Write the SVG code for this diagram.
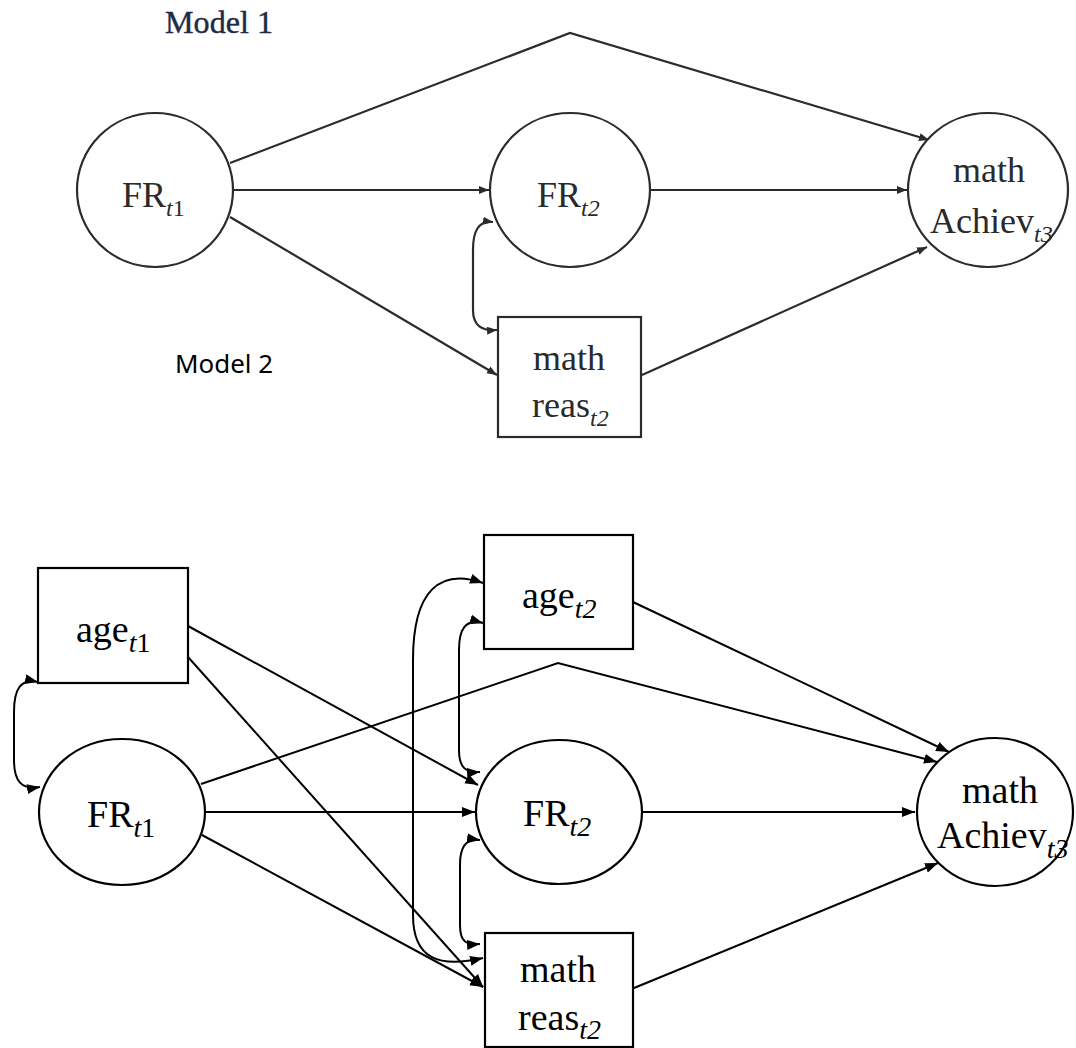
<svg xmlns="http://www.w3.org/2000/svg" width="1076" height="1048" viewBox="0 0 1076 1048">
<style>
.m1 { fill: none; stroke: #2b2b2b; stroke-width: 2.2; }
.m2 { fill: none; stroke: #000; stroke-width: 2; }
.n1 { fill: #fff; stroke: #2b2b2b; stroke-width: 2.2; }
.n2 { fill: #fff; stroke: #000; stroke-width: 2.2; }
.t1 { font-family: "Liberation Serif", "Times New Roman", serif; font-size: 36px; fill: #2a2a2a; }
.t2 { font-family: "Liberation Serif", "Times New Roman", serif; font-size: 38px; fill: #000; }
.sub1 { font-size: 24px; font-style: italic; }
.sub2 { font-size: 28px; font-style: italic; }
.up { font-style: normal; }
.hdr1 { font-family: "Liberation Serif", "Times New Roman", serif; font-size: 31px; fill: #1f2a44; stroke: #1f2a44; stroke-width: 0.4; }
.hdr2 { font-family: "Noto Sans", "Open Sans", sans-serif; font-size: 25px; fill: #000; }
</style>
<defs>
<marker id="a1" markerUnits="userSpaceOnUse" markerWidth="12" markerHeight="10" refX="10" refY="4" orient="auto-start-reverse">
<path d="M0,0 L10,4 L0,8 Z" fill="#2b2b2b"/>
</marker>
<marker id="a2" markerUnits="userSpaceOnUse" markerWidth="15" markerHeight="11" refX="13" refY="5" orient="auto-start-reverse">
<path d="M0,0 L13,5 L0,10 Z" fill="#000"/>
</marker>
</defs>

<text class="hdr1" x="165" y="33" textLength="108" lengthAdjust="spacingAndGlyphs">Model 1</text>
<text class="hdr2" x="175" y="373" textLength="98" lengthAdjust="spacingAndGlyphs">Model 2</text>

<g id="connectors1">
<path class="m1" d="M230,163 L570,33 L929,140" marker-end="url(#a1)"/>
<path class="m1" d="M233,190 L489,190" marker-end="url(#a1)"/>
<path class="m1" d="M650,190 L907,190" marker-end="url(#a1)"/>
<path class="m1" d="M230,217 L497,375" marker-end="url(#a1)"/>
<path class="m1" d="M642,375 L927,247" marker-end="url(#a1)"/>
<path class="m1" d="M493,222 C478,220 473,232 473,250 L473,310 C473,326 482,331 497,330" marker-start="url(#a1)" marker-end="url(#a1)"/>
</g>

<g id="m1_FRt1">
<ellipse class="n1" cx="155" cy="190" rx="78" ry="77"/>
<text class="t1" x="122" y="207">FR<tspan class="sub1" dy="9">t<tspan class="up">1</tspan></tspan></text>
</g>
<g id="m1_FRt2">
<ellipse class="n1" cx="570" cy="190" rx="80" ry="77"/>
<text class="t1" x="537" y="207">FR<tspan class="sub1" dy="9">t2</tspan></text>
</g>
<g id="m1_mathAchiev">
<ellipse class="n1" cx="988" cy="190" rx="80" ry="77"/>
<text class="t1" x="989" y="182" text-anchor="middle">math</text>
<text class="t1" x="930" y="233">Achiev<tspan class="sub1" dy="9">t3</tspan></text>
</g>
<g id="m1_mathReas">
<rect class="n1" x="498" y="317" width="143" height="120"/>
<text class="t1" x="569" y="370" text-anchor="middle">math</text>
<text class="t1" x="532" y="417">reas<tspan class="sub1" dy="9">t2</tspan></text>
</g>

<g id="connectors2">
<path class="m2" d="M38,682 C20,678 14,690 14,712 L14,760 C14,782 22,790 40,787" marker-start="url(#a2)" marker-end="url(#a2)"/>
<path class="m2" d="M483,583 C440,568 413,590 413,660 L413,915 C413,960 440,968 483,958" marker-start="url(#a2)" marker-end="url(#a2)"/>
<path class="m2" d="M483,623 C465,618 459,630 459,650 L459,750 C459,768 466,773 480,772" marker-start="url(#a2)" marker-end="url(#a2)"/>
<path class="m2" d="M480,840 C465,838 460,848 460,865 L460,925 C460,942 466,945 480,944" marker-start="url(#a2)" marker-end="url(#a2)"/>
<path class="m2" d="M188,626 L478,785" marker-end="url(#a2)"/>
<path class="m2" d="M188,657 L483,987" marker-end="url(#a2)"/>
<path class="m2" d="M204,812 L475,812" marker-end="url(#a2)"/>
<path class="m2" d="M202,835 L483,987" marker-end="url(#a2)"/>
<path class="m2" d="M201,784 L558,663 L937,762" marker-end="url(#a2)"/>
<path class="m2" d="M633,602 L949,752" marker-end="url(#a2)"/>
<path class="m2" d="M642,812 L915,812" marker-end="url(#a2)"/>
<path class="m2" d="M634,988 L938,863" marker-end="url(#a2)"/>
</g>

<g id="m2_aget1">
<rect class="n2" x="38" y="568" width="150" height="115"/>
<text class="t2" x="76" y="642">age<tspan class="sub2" dy="10">t<tspan class="up">1</tspan></tspan></text>
</g>
<g id="m2_FRt1">
<ellipse class="n2" cx="122" cy="812" rx="83" ry="73"/>
<text class="t2" x="87" y="827">FR<tspan class="sub2" dy="10">t<tspan class="up">1</tspan></tspan></text>
</g>
<g id="m2_aget2">
<rect class="n2" x="484" y="535" width="149" height="114"/>
<text class="t2" x="522" y="608">age<tspan class="sub2" dy="10">t2</tspan></text>
</g>
<g id="m2_FRt2">
<ellipse class="n2" cx="559" cy="812" rx="83" ry="72"/>
<text class="t2" x="523" y="826">FR<tspan class="sub2" dy="10">t2</tspan></text>
</g>
<g id="m2_mathReas">
<rect class="n2" x="485" y="933" width="148" height="114"/>
<text class="t2" x="558" y="982" text-anchor="middle">math</text>
<text class="t2" x="518" y="1030">reas<tspan class="sub2" dy="9">t2</tspan></text>
</g>
<g id="m2_mathAchiev">
<ellipse class="n2" cx="995" cy="812" rx="78" ry="74"/>
<text class="t2" x="1000" y="803" text-anchor="middle">math</text>
<text class="t2" x="937" y="848">Achiev<tspan class="sub2" dy="10">t3</tspan></text>
</g>
</svg>
